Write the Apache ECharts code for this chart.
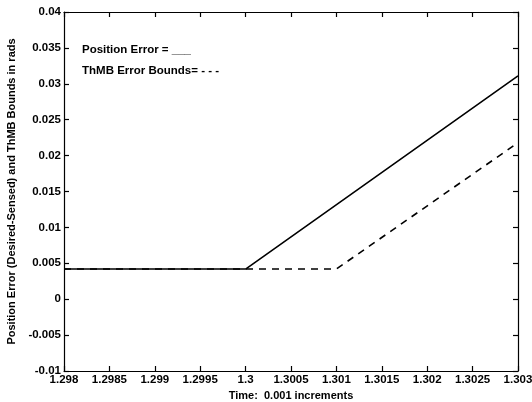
<!DOCTYPE html>
<html><head><meta charset="utf-8">
<script src="https://cdn.jsdelivr.net/npm/echarts@6/dist/echarts.min.js"></script>
<style>html,body{margin:0;padding:0;background:#fff}#c{width:532px;height:402px}</style>
</head><body><div id="c"></div>
<script>
var posTime = [1.298, 1.3, 1.303];
var posError = [0.0042, 0.0042, 0.0311];
var boundTime = [1.298, 1.301, 1.303];
var boundError = [0.0042, 0.0042, 0.0218];
var legendTexts = ['Position Error = ___', 'ThMB Error Bounds= - - -'];
var xTitle = 'Time:  0.001 increments';
var yTitle = 'Position Error (Desired-Sensed) and ThMB Bounds in rads';

function zip(a, b) { return a.map(function (v, i) { return [v, b[i]]; }); }
function fmt(v) { return String(parseFloat(v.toFixed(5))); }
var ff = 'Liberation Sans, Arial, sans-serif';
var font = { fontFamily: ff, fontWeight: 'bold', fontSize: 11.5, color: '#000' };
var nameFont = { fontFamily: ff, fontWeight: 'bold', fontSize: 11, color: '#000' };
var axLine = { show: true, onZero: false, lineStyle: { color: '#000', width: 1.2 } };
var tick = { show: true, inside: true, length: 5, lineStyle: { color: '#000', width: 1.2 } };

var chart = echarts.init(document.getElementById('c'), null, { renderer: 'canvas' });
chart.setOption({
  animation: false,
  backgroundColor: '#fff',
  grid: { left: 64, right: 14, top: 12, bottom: 31, containLabel: false, outerBoundsMode: 'none' },
  xAxis: [
    { type: 'value', min: 1.298, max: 1.303, interval: 0.0005, position: 'bottom',
      axisLine: axLine, axisTick: tick, splitLine: { show: false },
      axisLabel: Object.assign({ formatter: fmt, margin: 3 }, font),
      name: xTitle, nameLocation: 'middle', nameGap: 17, nameTextStyle: nameFont },
    { type: 'value', min: 1.298, max: 1.303, interval: 0.0005, position: 'top',
      axisLine: axLine, axisTick: tick, splitLine: { show: false }, axisLabel: { show: false } }
  ],
  yAxis: [
    { type: 'value', min: -0.01, max: 0.04, interval: 0.005, position: 'left',
      axisLine: axLine, axisTick: tick, splitLine: { show: false },
      axisLabel: Object.assign({ formatter: fmt, margin: 3 }, font),
      name: yTitle, nameLocation: 'middle', nameGap: 42, nameTextStyle: nameFont },
    { type: 'value', min: -0.01, max: 0.04, interval: 0.005, position: 'right',
      axisLine: axLine, axisTick: tick, splitLine: { show: false }, axisLabel: { show: false } }
  ],
  series: [
    { type: 'line', data: zip(posTime, posError), showSymbol: false, symbol: 'none',
      lineStyle: { color: '#000', width: 1.6, type: 'solid' } },
    { type: 'line', data: zip(boundTime, boundError), showSymbol: false, symbol: 'none',
      lineStyle: { color: '#000', width: 1.6, type: [7, 6] } }
  ],
  graphic: [
    { type: 'text', left: 82, top: 44, style: { text: legendTexts[0], fill: '#000', font: 'bold 11.5px ' + ff } },
    { type: 'text', left: 82, top: 65, style: { text: legendTexts[1], fill: '#000', font: 'bold 11.5px ' + ff } }
  ]
});
</script></body></html>
